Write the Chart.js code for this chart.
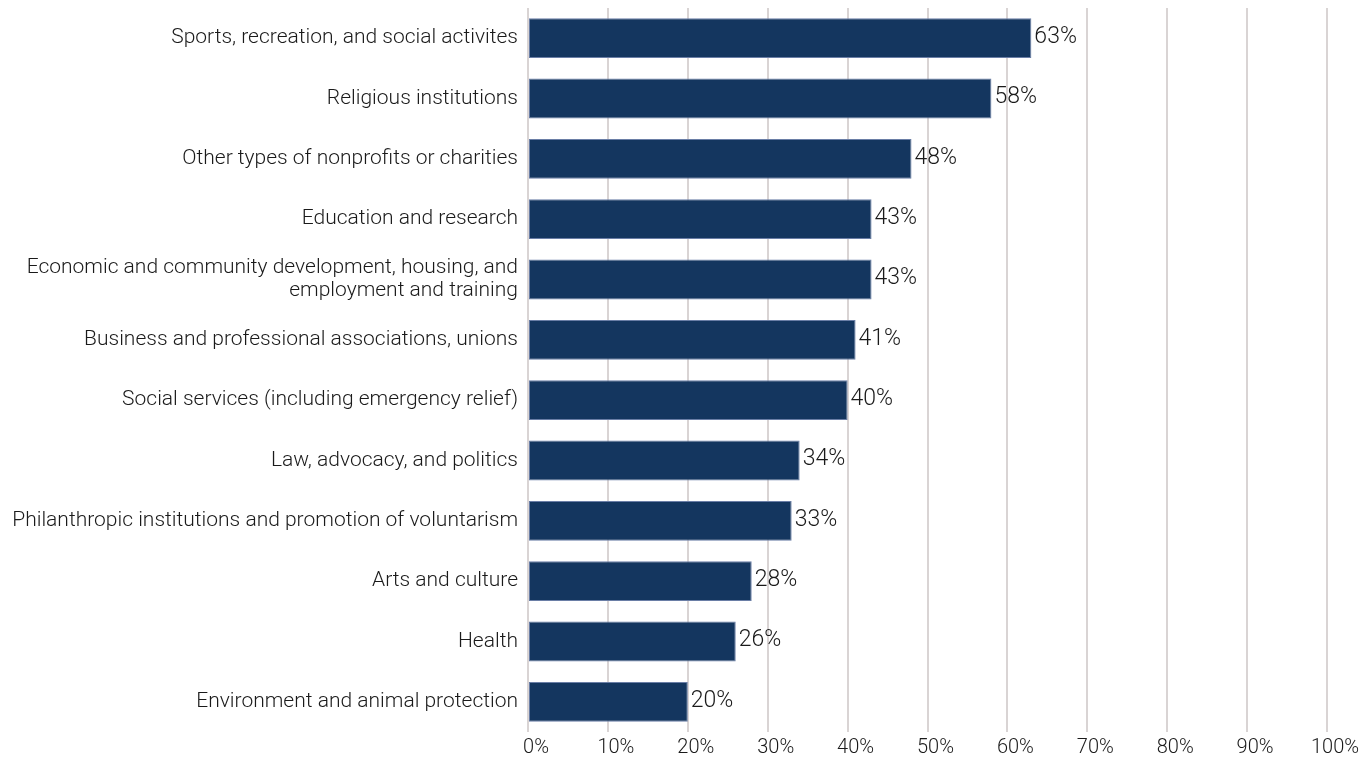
<!DOCTYPE html>
<html lang="en">
<head>
<meta charset="UTF-8">
<title>Volunteering by organization type</title>
<script src="https://cdn.jsdelivr.net/npm/chart.js"></script>
<style>
  html, body { margin: 0; padding: 0; background: #fff; }
  #wrap { width: 1372px; height: 761px; }
</style>
</head>
<body>
  <div id="wrap">
    <canvas id="chart" width="1372" height="761"></canvas>
  </div>

  <script>
    // Категории и значения (в процентах)
    const categories = [
      'Sports, recreation, and social activites',
      'Religious institutions',
      'Other types of nonprofits or charities',
      'Education and research',
      ['Economic and community development, housing, and', 'employment and training'],
      'Business and professional associations, unions',
      'Social services (including emergency relief)',
      'Law, advocacy, and politics',
      'Philanthropic institutions and promotion of voluntarism',
      'Arts and culture',
      'Health',
      'Environment and animal protection'
    ];
    const values = [63, 58, 48, 43, 43, 41, 40, 34, 33, 28, 26, 20];
    const xTicks = [0, 10, 20, 30, 40, 50, 60, 70, 80, 90, 100];

    const FONT = 'Roboto, Lato, sans-serif';
    const TEXT = '#1a1a1a';

    // Подписи значений справа от столбцов
    const valueLabels = {
      id: 'valueLabels',
      afterDatasetsDraw(chart) {
        const ctx = chart.ctx;
        const meta = chart.getDatasetMeta(0);
        ctx.save();
        ctx.font = '300 23px ' + FONT;
        ctx.fillStyle = TEXT;
        ctx.textAlign = 'left';
        ctx.textBaseline = 'middle';
        meta.data.forEach((bar, i) => {
          ctx.fillText(values[i] + '%', bar.x + 3, bar.y - 1);
        });
        ctx.restore();
      }
    };

    const ctx = document.getElementById('chart').getContext('2d');
    const chart = new Chart(ctx, {
      type: 'bar',
      data: {
        labels: categories,
        datasets: [{
          data: values,
          backgroundColor: '#14365f',
          borderColor: '#6a7ea6',
          borderWidth: 1,
          borderSkipped: false,
          barPercentage: 0.66,
          categoryPercentage: 1.0
        }]
      },
      options: {
        indexAxis: 'y',
        responsive: false,
        animation: false,
        layout: { padding: { top: 8, right: 45, bottom: 0, left: 0 } },
        plugins: {
          legend: { display: false },
          tooltip: { enabled: false }
        },
        scales: {
          x: {
            min: 0,
            max: 100,
            afterBuildTicks(scale) {
              scale.ticks = xTicks.map(v => ({ value: v }));
            },
            afterFit(scale) { scale.height = 29; },
            grid: { color: '#d9d4d4', lineWidth: 2, drawTicks: false },
            border: { display: false },
            ticks: {
              padding: 4,
              labelOffset: 8,
              color: TEXT,
              font: { family: FONT, size: 20, weight: 300 },
              callback: v => v + '%'
            }
          },
          y: {
            afterFit(scale) {
              scale.width = 528;
              scale.paddingTop = 0;
              scale.paddingBottom = 0;
            },
            grid: { display: false, drawTicks: false },
            border: { display: false },
            ticks: {
              padding: 10,
              color: TEXT,
              font: { family: FONT, size: 21, weight: 300, lineHeight: 1.1 }
            }
          }
        }
      },
      plugins: [valueLabels]
    });
  </script>
</body>
</html>
